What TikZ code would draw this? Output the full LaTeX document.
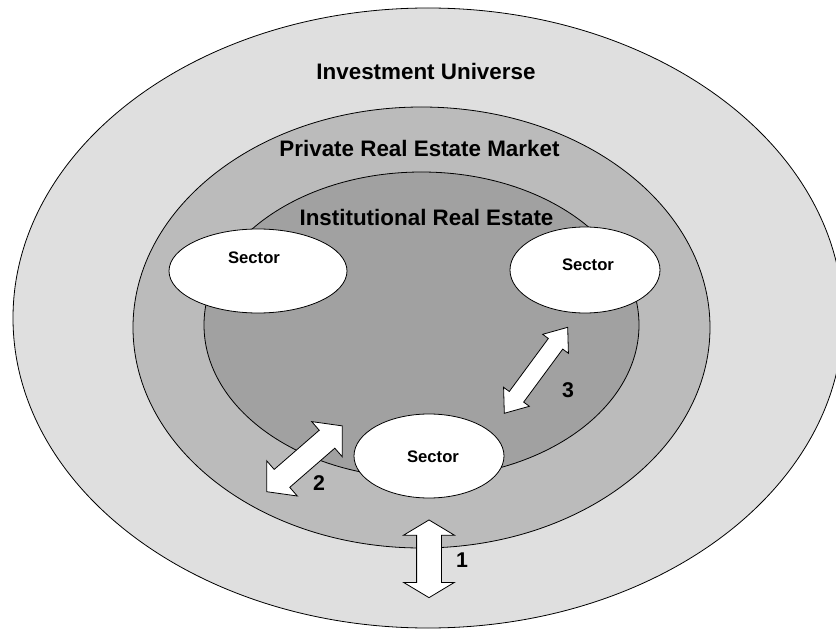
\documentclass[tikz,border=0pt]{standalone}
\usepackage{fontspec}
\setmainfont{Liberation Sans}
\usepackage{xcolor}
\usepackage{tikz}
\usetikzlibrary{positioning,calc,shapes.geometric,shapes.arrows}
\definecolor{ink}{HTML}{000000}
\definecolor{universebg}{HTML}{DFDFDF}
\definecolor{marketbg}{HTML}{BBBBBB}
\definecolor{instbg}{HTML}{A1A1A1}
\tikzset{
  every node/.style={text=ink},
  ring/.style={ellipse,draw=ink,line width=0.6pt,inner sep=0pt},
  sectorbox/.style={ring,fill=white},
  title/.style={font=\fontsize{16.8}{20}\selectfont\bfseries,inner sep=0pt},
  tag/.style={font=\fontsize{12.5}{15}\selectfont\bfseries,inner sep=0pt},
  num/.style={font=\fontsize{16}{19}\selectfont\bfseries,inner sep=0pt},
  flow/.style={double arrow,draw=ink,fill=white,line width=0.6pt,inner xsep=0pt}
}
\begin{document}
\begin{tikzpicture}[x=0.75pt,y=-0.75pt]
  \useasboundingbox (0,0) rectangle (836,631);
  % nested markets
  \node[ring,fill=universebg,minimum width=622.5pt,minimum height=465pt] (universe) at (428,318) {};
  \node[ring,fill=marketbg,minimum width=432.75pt,minimum height=330.75pt] (market) at (421.5,327.5) {};
  \node[ring,fill=instbg,minimum width=326.25pt,minimum height=229.5pt] (inst) at (421.5,325) {};

  \node[title] at ($(universe.north)+(-2,64)$) {Investment Universe};
  \node[title] at ($(market.north)+(-2,42)$) {Private Real Estate Market};
  \node[title] at ($(inst.north)+(5,46)$) {Institutional Real Estate};

  % sectors
  \node[sectorbox,minimum width=133.5pt,minimum height=63pt] (secL) at (258,271) {};
  \node[sectorbox,minimum width=112.5pt,minimum height=64.5pt] (secR) at (585,270) {};
  \node[sectorbox,minimum width=112.5pt,minimum height=63pt] (secB) at (429,456) {};
  \node[tag] at ($(secL)+(-4,-13)$) {Sector};
  \node[tag] at ($(secR)+(3,-5)$) {Sector};
  \node[tag] at ($(secB)+(4,1)$) {Sector};

  % flows between segments
  \node[flow,minimum height=58.3pt,inner ysep=9pt,double arrow head extend=9.75pt,
    double arrow tip angle=118,rotate=90] (arr1) at (429,558.8) {};
  \node[flow,minimum height=75.2pt,inner ysep=8.6pt,double arrow head extend=8.6pt,
    double arrow tip angle=98,rotate=41] (arr2) at (304.5,458.8) {};
  \node[flow,minimum height=80.1pt,inner ysep=6.4pt,double arrow head extend=5.3pt,
    double arrow tip angle=76,rotate=53.6] (arr3) at (536,370.3) {};
  \node[num] at (462,560) {1};
  \node[num] at (319,483) {2};
  \node[num] at (568,390) {3};
\end{tikzpicture}
\end{document}
